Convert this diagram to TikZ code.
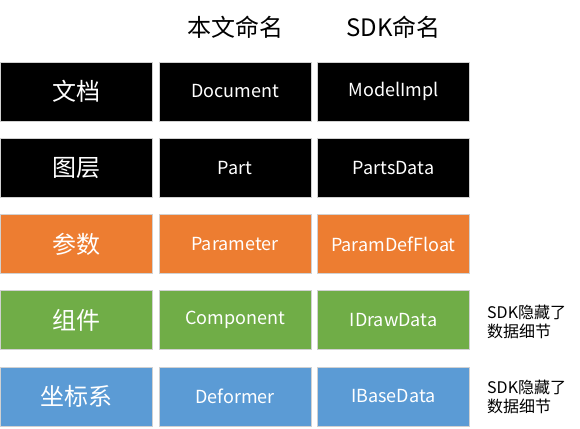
\documentclass[tikz,border=0pt]{standalone}
\usepackage{fontspec}
\setmainfont{Noto Sans CJK SC}
\usepackage{xcolor}
\definecolor{layblack}{HTML}{000000}
\definecolor{layorange}{HTML}{ED7D31}
\definecolor{laygreen}{HTML}{70AD47}
\definecolor{layblue}{HTML}{5B9BD5}
\tikzset{
  cell/.style={draw=white!82!black, line width=0.8pt, text=white, minimum width=152pt, minimum height=59pt, inner sep=0pt},
  big/.style={cell, font=\fontsize{24}{28}\selectfont},
  small/.style={cell, font=\fontsize{18}{22}\selectfont},
  head/.style={font=\fontsize{24}{28}\selectfont},
  note/.style={align=left, anchor=west, inner sep=0pt, font=\fontsize{16}{19}\selectfont}
}
\begin{document}
\begin{tikzpicture}[x=1pt,y=-1pt]
        \useasboundingbox (0,0) rectangle (580,428);
        \node[head](h1) at (235,27) {本文命名};
        \node[head](h2) at (393.5,27) {SDK命名};
        \node[big, fill=layblack](a1) at (76,91.5) {文档};
        \node[small, fill=layblack](a2) at (235,91.5) {Document};
        \node[small, fill=layblack](a3) at (393.5,91.5) {ModelImpl};
        \node[big, fill=layblack](b1) at (76,167.75) {图层};
        \node[small, fill=layblack](b2) at (235,167.75) {Part};
        \node[small, fill=layblack](b3) at (393.5,167.75) {PartsData};
        \node[big, fill=layorange](c1) at (76,244) {参数};
        \node[small, fill=layorange](c2) at (235,244) {Parameter};
        \node[small, fill=layorange](c3) at (393.5,244) {ParamDefFloat};
        \node[big, fill=laygreen](d1) at (76,320.25) {组件};
        \node[small, fill=laygreen](d2) at (235,320.25) {Component};
        \node[small, fill=laygreen](d3) at (393.5,320.25) {IDrawData};
        \node[note](d4) at (487,322) {SDK隐藏了\\数据细节};
        \node[big, fill=layblue](e1) at (76,396.5) {坐标系};
        \node[small, fill=layblue](e2) at (235,396.5) {Deformer};
        \node[small, fill=layblue](e3) at (393.5,396.5) {IBaseData};
        \node[note](e4) at (487,397) {SDK隐藏了\\数据细节};
        \end{tikzpicture}
\end{document}
